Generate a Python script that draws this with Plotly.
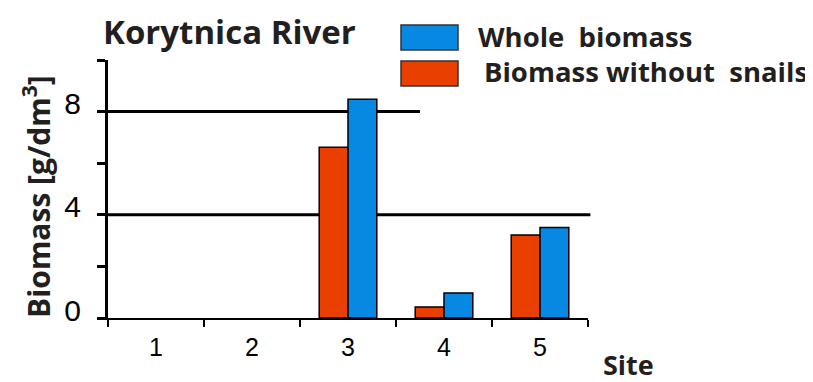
import plotly.graph_objects as go

sites = ["1", "2", "3", "4", "5"]
without_snails = [None, None, 6.62, 0.43, 3.22]
whole_biomass = [None, None, 8.48, 0.97, 3.51]
y_tickvals = [0, 4, 8]
y_ticktext = ["0", "4", "8"]

RED = "#E93F00"
BLUE = "#0788E2"
DARK = "#231F20"

fig = go.Figure()
fig.add_trace(go.Bar(x=sites, y=without_snails, name="Biomass without  snails",
                     marker=dict(color=RED, line=dict(color="black", width=1.5))))
fig.add_trace(go.Bar(x=sites, y=whole_biomass, name="Whole  biomass",
                     marker=dict(color=BLUE, line=dict(color="black", width=1.5))))

OFF = 8  # default body margin of the page
W, H = 813 - OFF, 382 - OFF
ml, mt = 108 - OFF, 60 - OFF
pw, ph = 480, 258
mr = W - ml - pw
mb = H - mt - ph

def px(x):
    return (x - OFF - ml) / pw

def py(y):
    return (H - mb - (y - OFF)) / ph

shapes = [
    dict(type="line", xref="paper", yref="y", x0=0, x1=1.005, y0=4, y1=4,
         line=dict(color="black", width=3), layer="below"),
    dict(type="line", xref="paper", yref="y", x0=0, x1=px(420), y0=8, y1=8,
         line=dict(color="black", width=3), layer="below"),
    dict(type="rect", xref="paper", yref="paper", x0=px(401), x1=px(458), y0=py(50), y1=py(25),
         fillcolor=BLUE, line=dict(color="#333", width=1.5)),
    dict(type="rect", xref="paper", yref="paper", x0=px(401), x1=px(458), y0=py(86), y1=py(61),
         fillcolor=RED, line=dict(color="#333", width=1.5)),
]

bold = "Open Sans"
annotations = [
    dict(text="<b>Korytnica River</b>", xref="paper", yref="paper", x=px(101), y=py(31),
         xanchor="left", yanchor="middle", showarrow=False,
         font=dict(family=bold, size=33, color=DARK)),
    dict(text="<b>Whole  biomass</b>", xref="paper", yref="paper", x=px(476), y=py(36),
         xanchor="left", yanchor="middle", showarrow=False,
         font=dict(family=bold, size=27.5, color=DARK)),
    dict(text="<b>Biomass without  snails</b>", xref="paper", yref="paper", x=px(482), y=py(72),
         xanchor="left", yanchor="middle", showarrow=False,
         font=dict(family=bold, size=27.5, color=DARK)),
    dict(text="<b>Biomass [g/dm<sup>3</sup>]</b>", xref="paper", yref="paper", x=px(37), y=py(197),
         xanchor="center", yanchor="middle", textangle=-90, showarrow=False,
         font=dict(family=bold, size=30, color=DARK)),
    dict(text="<b>Site</b>", xref="paper", yref="paper", x=px(601), y=py(364),
         xanchor="left", yanchor="middle", showarrow=False,
         font=dict(family=bold, size=27, color=DARK)),
]

fig.update_layout(
    width=W, height=H,
    margin=dict(l=ml, r=mr, t=mt, b=mb, pad=0),
    paper_bgcolor="white", plot_bgcolor="white",
    barmode="group", bargap=0.4, bargroupgap=0,
    showlegend=False,
    shapes=shapes, annotations=annotations,
    xaxis=dict(type="category", range=[-0.5, 4.5], showgrid=False, zeroline=False,
               showline=True, linecolor="black", linewidth=2,
               ticks="outside", tickson="boundaries", ticklen=7, tickwidth=2, tickcolor="black",
               tickfont=dict(family="Liberation Sans", size=25, color="black"),
               ticklabelstandoff=6),
    yaxis=dict(range=[0, 10], showgrid=False, zeroline=False,
               showline=True, linecolor="black", linewidth=3,
               tickmode="array", tickvals=y_tickvals, ticktext=y_ticktext,
               ticks="outside", ticklen=8, tickwidth=2.5, tickcolor="black",
               tickfont=dict(family="Liberation Sans", size=30, color="black"),
               ticklabelstandoff=10, ticklabelshift=-8,
               minor=dict(tick0=0, dtick=2, ticks="outside", ticklen=8, tickwidth=2.5,
                          tickcolor="black", showgrid=False)),
)

fig.write_html("out.html")
